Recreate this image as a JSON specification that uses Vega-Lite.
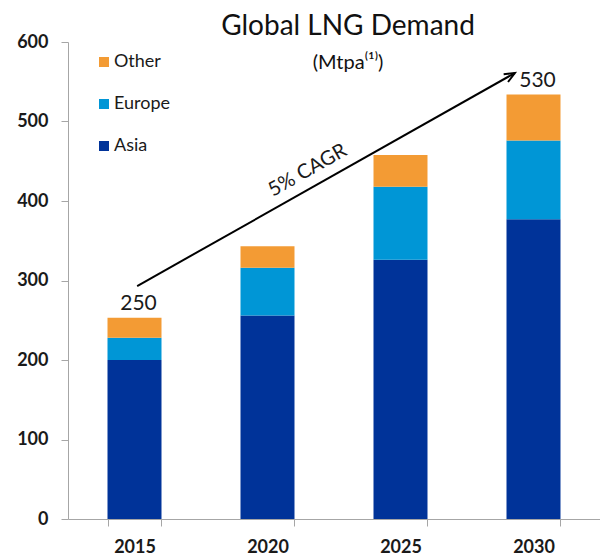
{
  "$schema": "https://vega.github.io/schema/vega-lite/v6.json",
  "autosize": {"type": "none"},
  "width": 532,
  "height": 477,
  "padding": {"left": 68, "top": 42, "right": 0, "bottom": 37},
  "background": "white",
  "config": {
    "view": {"stroke": null},
    "font": "Lato",
    "text": {"font": "Lato"}
  },
  "title": {
    "text": "Global LNG Demand",
    "subtitle": "(Mtpa⁽¹⁾)",
    "anchor": "middle",
    "dx": 14,
    "offset": -40,
    "font": "Lato",
    "fontSize": 28,
    "fontWeight": "normal",
    "color": "#111111",
    "subtitleFont": "Lato",
    "subtitleFontSize": 20,
    "subtitleColor": "#111111",
    "subtitlePadding": 12
  },
  "datasets": {
    "bars": [
      {"year": "2015", "region": "Asia", "value": 200},
      {"year": "2015", "region": "Europe", "value": 28},
      {"year": "2015", "region": "Other", "value": 25},
      {"year": "2020", "region": "Asia", "value": 256},
      {"year": "2020", "region": "Europe", "value": 60},
      {"year": "2020", "region": "Other", "value": 27},
      {"year": "2025", "region": "Asia", "value": 326},
      {"year": "2025", "region": "Europe", "value": 92},
      {"year": "2025", "region": "Other", "value": 40},
      {"year": "2030", "region": "Asia", "value": 377},
      {"year": "2030", "region": "Europe", "value": 99},
      {"year": "2030", "region": "Other", "value": 58}
    ],
    "totals": [
      {"year": "2015", "total": 253, "label": "250"},
      {"year": "2030", "total": 533, "label": "530"}
    ],
    "arrow": [
      {"x": 2015.1, "y": 293, "x2": 2029.3, "y2": 561, "text": "5% CAGR", "tx": 2021.6, "ty": 433}
    ]
  },
  "layer": [
    {
      "layer": [
        {
          "data": {"name": "bars"},
          "mark": {"type": "bar"},
          "encoding": {
            "x": {
              "field": "year", "type": "nominal",
              "scale": {"paddingInner": 0.594, "paddingOuter": 0.297},
              "axis": {
                "title": null, "labelAngle": 0, "tickBand": "extent",
                "domainColor": "#a6a6a6", "tickColor": "#a6a6a6", "tickSize": 7,
                "labelFont": "Lato", "labelFontSize": 18, "labelFontWeight": "bold",
                "labelColor": "#1a1a1a", "labelPadding": 12
              }
            },
            "y": {
              "field": "value", "type": "quantitative", "stack": "zero",
              "scale": {"domain": [0, 600], "nice": false},
              "axis": {
                "title": null, "values": [0, 100, 200, 300, 400, 500, 600], "grid": false,
                "domainColor": "#a6a6a6", "tickColor": "#a6a6a6", "tickSize": 7,
                "labelFont": "Lato", "labelFontSize": 18, "labelFontWeight": "bold",
                "labelColor": "#1a1a1a", "labelPadding": 13
              }
            },
            "color": {
              "field": "region", "type": "nominal",
              "scale": {"domain": ["Other", "Europe", "Asia"], "range": ["#F39B34", "#0096D6", "#003399"]},
              "legend": {
                "orient": "none", "legendX": 27, "legendY": 11, "title": null,
                "symbolType": "square", "symbolSize": 100, "symbolStrokeWidth": 0,
                "labelFont": "Lato", "labelFontSize": 18, "labelColor": "#1a1a1a",
                "rowPadding": 24, "labelOffset": 1, "padding": 0
              }
            },
            "order": {"field": "region", "sort": "ascending"}
          }
        },
        {
          "data": {"name": "totals"},
          "mark": {"type": "text", "baseline": "bottom", "dy": -4, "dx": 4, "fontSize": 21, "font": "Lato", "color": "#1a1a1a"},
          "encoding": {
            "x": {"field": "year", "type": "nominal"},
            "y": {"field": "total", "type": "quantitative"},
            "text": {"field": "label"}
          }
        }
      ]
    },
    {
      "data": {"name": "arrow"},
      "layer": [
        {
          "mark": {"type": "rule", "color": "black", "strokeWidth": 2},
          "encoding": {
            "x": {"field": "x", "type": "quantitative", "scale": {"domain": [2012.5, 2032.5], "nice": false, "zero": false}, "axis": null},
            "y": {"field": "y", "type": "quantitative"},
            "x2": {"field": "x2"},
            "y2": {"field": "y2"}
          }
        },
        {
          "mark": {"type": "point", "shape": "M -0.6 1.4 L 0 0 L 0.6 1.4", "filled": false, "stroke": "black", "strokeWidth": 2, "size": 220, "angle": 60.5, "opacity": 1},
          "encoding": {
            "x": {"field": "x2", "type": "quantitative", "scale": {"domain": [2012.5, 2032.5], "nice": false, "zero": false}, "axis": null},
            "y": {"field": "y2", "type": "quantitative"}
          }
        },
        {
          "mark": {"type": "text", "angle": 330.5, "fontSize": 20, "font": "Lato", "color": "#1a1a1a", "baseline": "bottom", "dy": 5},
          "encoding": {
            "x": {"field": "tx", "type": "quantitative", "scale": {"domain": [2012.5, 2032.5], "nice": false, "zero": false}, "axis": null},
            "y": {"field": "ty", "type": "quantitative"},
            "text": {"field": "text"}
          }
        }
      ]
    }
  ],
  "resolve": {"scale": {"x": "independent"}, "axis": {"x": "independent"}}
}
